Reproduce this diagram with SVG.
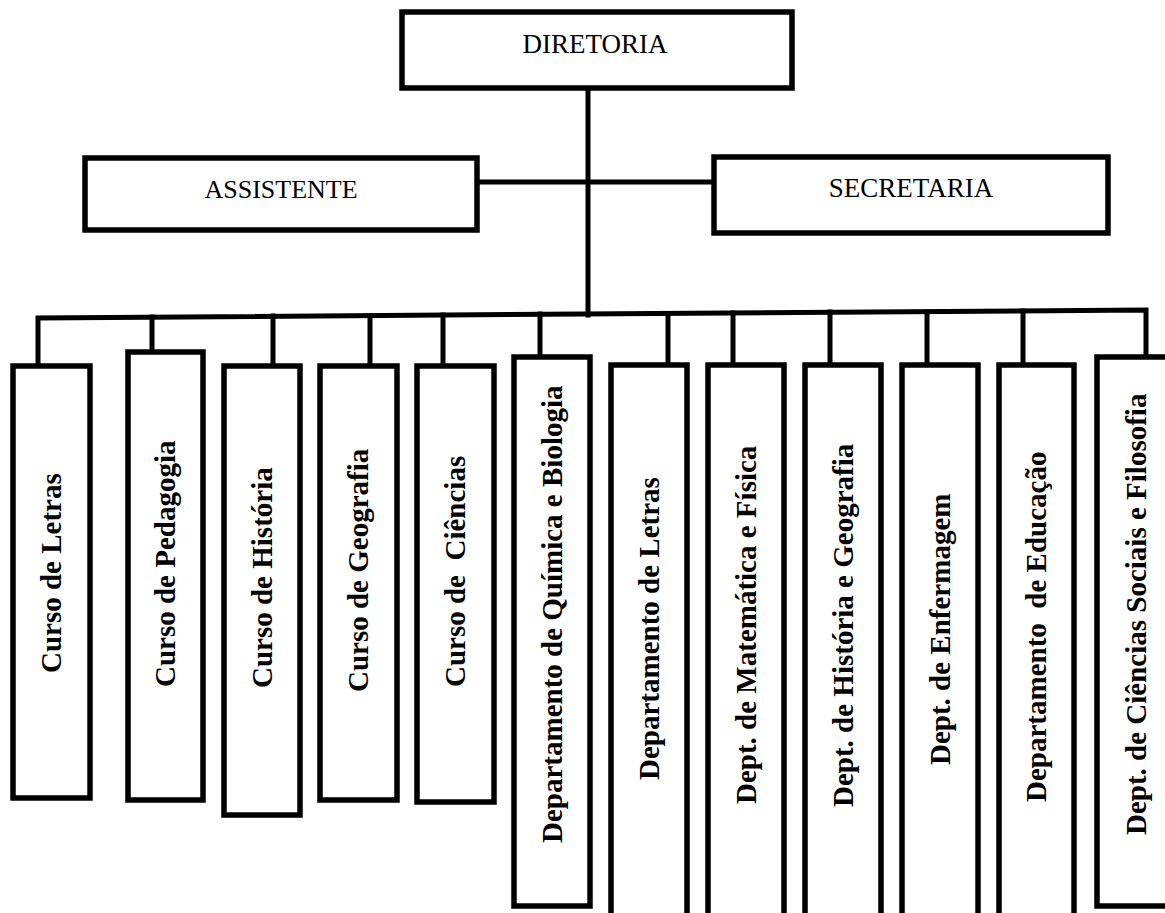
<svg xmlns="http://www.w3.org/2000/svg" width="1165" height="913" viewBox="0 0 1165 913">
<style>
.box{fill:#fff;stroke:#000;stroke-width:5.5}
.ln{stroke:#000;stroke-width:5;fill:none;stroke-linecap:square}
.t{font-family:"Liberation Serif","Times New Roman",serif;font-size:26px;fill:#000;text-anchor:middle}
.v{font-family:"Liberation Serif","Times New Roman",serif;font-size:29px;font-weight:bold;fill:#000;white-space:pre}
</style>
<rect width="1165" height="913" fill="#fff"/>
<g id="connectors">
<line class="ln" x1="588" y1="88" x2="588" y2="315"/>
<line class="ln" x1="477" y1="182" x2="714" y2="182"/>
<polyline class="ln" points="38,366 38,318 1146,310 1146,357"/>
<line class="ln" x1="152" y1="317" x2="152" y2="352"/>
<line class="ln" x1="273" y1="316" x2="273" y2="366"/>
<line class="ln" x1="370" y1="316" x2="370" y2="366"/>
<line class="ln" x1="443" y1="315" x2="443" y2="366"/>
<line class="ln" x1="540" y1="314" x2="540" y2="357"/>
<line class="ln" x1="668" y1="314" x2="668" y2="365"/>
<line class="ln" x1="733" y1="313" x2="733" y2="365"/>
<line class="ln" x1="830" y1="312" x2="830" y2="365"/>
<line class="ln" x1="927" y1="312" x2="927" y2="365"/>
<line class="ln" x1="1023" y1="311" x2="1023" y2="365"/>
</g>
<g id="diretoria"><rect class="box" x="402" y="12" width="390" height="76"/><text class="t" x="595" y="53" style="font-size:27px">DIRETORIA</text></g>
<g id="assistente"><rect class="box" x="85" y="158" width="392" height="72"/><text class="t" x="281" y="198">ASSISTENTE</text></g>
<g id="secretaria"><rect class="box" x="714" y="157" width="394" height="76"/><text class="t" x="911" y="197" style="font-size:27px">SECRETARIA</text></g>
<g id="curso-letras"><rect class="box" x="13" y="366" width="77" height="432"/><text class="v" transform="translate(61,673) rotate(-90)">Curso de Letras</text></g>
<g id="curso-pedagogia"><rect class="box" x="128" y="352" width="75" height="448"/><text class="v" transform="translate(175,687) rotate(-90)">Curso de Pedagogia</text></g>
<g id="curso-historia"><rect class="box" x="224" y="366" width="76" height="449"/><text class="v" transform="translate(272,688) rotate(-90)">Curso de História</text></g>
<g id="curso-geografia"><rect class="box" x="320" y="366" width="77" height="434"/><text class="v" transform="translate(368,692) rotate(-90)">Curso de Geografia</text></g>
<g id="curso-ciencias"><rect class="box" x="417" y="366" width="77" height="436"/><text class="v" transform="translate(465,687) rotate(-90)">Curso de  Ciências</text></g>
<g id="dep-quimica"><rect class="box" x="514" y="357" width="76" height="549"/><text class="v" transform="translate(562,843) rotate(-90)">Departamento de Química e Biologia</text></g>
<g id="dep-letras"><rect class="box" x="611" y="365" width="76" height="560"/><text class="v" transform="translate(659,780) rotate(-90)">Departamento de Letras</text></g>
<g id="dep-matematica"><rect class="box" x="708" y="365" width="76" height="560"/><text class="v" transform="translate(756,804) rotate(-90)">Dept. de Matemática e Física</text></g>
<g id="dep-historia"><rect class="box" x="805" y="365" width="76" height="560"/><text class="v" transform="translate(853,807) rotate(-90)">Dept. de História e Geografia</text></g>
<g id="dep-enfermagem"><rect class="box" x="902" y="365" width="76" height="560"/><text class="v" transform="translate(950,765) rotate(-90)">Dept. de Enfermagem</text></g>
<g id="dep-educacao"><rect class="box" x="999" y="365" width="75" height="560"/><text class="v" transform="translate(1046,802) rotate(-90)">Departamento  de Educação</text></g>
<g id="dep-ciencias-sociais"><rect class="box" x="1097" y="357" width="80" height="549"/><text class="v" transform="translate(1146,835) rotate(-90)">Dept. de Ciências Sociais e Filosofia</text></g>
</svg>
